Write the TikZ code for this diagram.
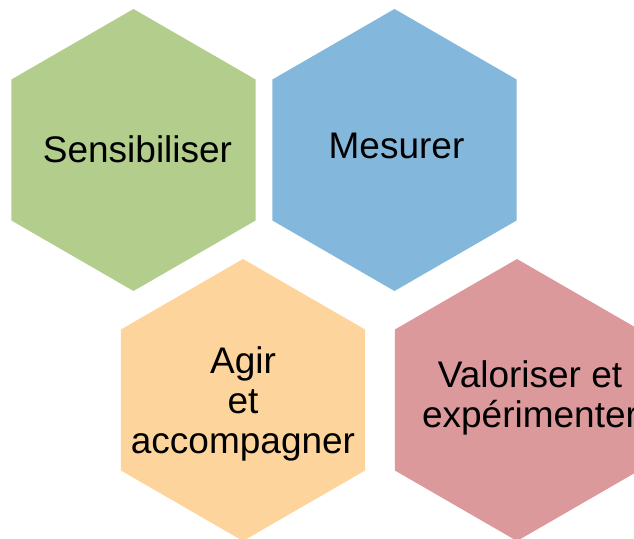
\documentclass[tikz,border=0pt]{standalone}
\usepackage{fontspec}
\setmainfont{Liberation Sans}
\usetikzlibrary{shapes.geometric}
\definecolor{hgreen}{HTML}{B3CE8C}
\definecolor{hblue}{HTML}{83B8DC}
\definecolor{horange}{HTML}{FDD59C}
\definecolor{hpink}{HTML}{DC999C}
\tikzset{
  hexa/.style={regular polygon, regular polygon sides=6, shape border rotate=30, minimum size=282pt, inner sep=0pt, draw=none, fill=#1},
  lbl/.style={font=\fontsize{37}{40}\selectfont, align=center, inner sep=0pt, text=black}
}
\begin{document}
\begin{tikzpicture}[x=1pt,y=-1pt]
\useasboundingbox (0,0) rectangle (634,538);
\clip (0,0) rectangle (634,538);
\node[hexa=hgreen] (h1) at (133.5,150) {};
\node[hexa=hblue] (h2) at (394.5,150) {};
\node[hexa=horange] (h3) at (243,400) {};
\node[hexa=hpink] (h4) at (517,400) {};
\node[lbl, anchor=base] (t1) at (137.5,162) {Sensibiliser};
\node[lbl, anchor=base] (t2) at (396.5,158) {Mesurer};
\node[lbl, anchor=center] (t3) at (243,403.5) {Agir\\et\\accompagner};
\node[lbl, anchor=center] (t4) at (530,398) {Valoriser et\\expérimenter};
\end{tikzpicture}
\end{document}
